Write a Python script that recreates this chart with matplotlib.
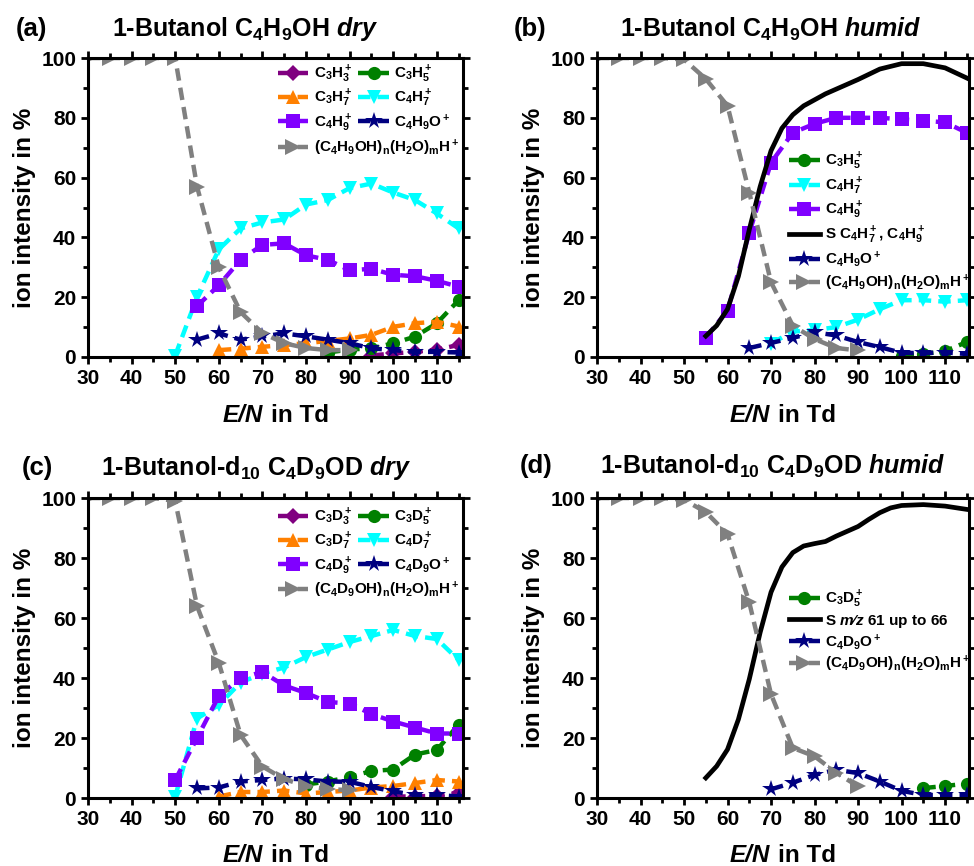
import matplotlib
matplotlib.use("Agg")
import matplotlib.pyplot as plt
from matplotlib.ticker import MultipleLocator
from matplotlib.offsetbox import TextArea, HPacker, AnchoredOffsetbox

plt.rcParams['font.family'] = ['Liberation Sans', 'DejaVu Sans']
plt.rcParams['font.weight'] = 'bold'
plt.rcParams['mathtext.fontset'] = 'custom'
plt.rcParams['mathtext.rm'] = 'Liberation Sans:bold'
plt.rcParams['mathtext.bf'] = 'Liberation Sans:bold'
plt.rcParams['mathtext.sf'] = 'Liberation Sans:bold'
plt.rcParams['mathtext.it'] = 'Liberation Sans:italic:bold'

# ---------------- data: panel (a) 1-Butanol dry ----------------
a_c3h3_x = [95, 100, 105, 110, 115]
a_c3h3_y = [0.5, 1.2, 1.7, 2.5, 4.0]
a_c3h5_x = [85, 90, 95, 100, 105, 110, 115]
a_c3h5_y = [1.5, 2.5, 2.9, 4.6, 6.8, 11.3, 19.0]
a_c3h7_x = [60, 65, 70, 75, 80, 85, 90, 95, 100, 105, 110, 115]
a_c3h7_y = [2.3, 2.8, 3.4, 4.0, 4.6, 5.4, 6.2, 7.4, 10.1, 11.3, 11.8, 10.2]
a_c4h7_x = [50, 55, 60, 65, 70, 75, 80, 85, 90, 95, 100, 105, 110, 115]
a_c4h7_y = [0.5, 20, 36, 43, 45, 46, 51, 52.5, 56.5, 58, 55, 52.5, 48, 43]
a_c4h9_x = [55, 60, 65, 70, 75, 80, 85, 90, 95, 100, 105, 110, 115]
a_c4h9_y = [17, 24, 32.5, 37.5, 38, 34, 32.5, 29, 29.5, 27.5, 27, 25.5, 23.5]
a_c4h9o_x = [55, 60, 65, 70, 75, 80, 85, 90, 95, 100, 105, 110, 115]
a_c4h9o_y = [5.8, 7.9, 5.8, 6.9, 7.9, 6.9, 5.8, 4.6, 2.9, 2.3, 1.7, 1.7, 1.5]
a_clus_x = [30, 35, 40, 45, 50, 55, 60, 65, 70, 75, 80, 85, 90]
a_clus_y = [100, 100, 100, 100, 100, 57, 30, 15, 8, 4.6, 3, 2.3, 2.3]

# ---------------- data: panel (b) 1-Butanol humid ----------------
b_c3h5_x = [100, 105, 110, 115]
b_c3h5_y = [0.5, 1.0, 2.0, 5.0]
b_c4h7_x = [70, 75, 80, 85, 90, 95, 100, 105, 110, 115]
b_c4h7_y = [4.5, 8.5, 9, 10, 12.5, 16, 19, 19, 18.5, 19]
b_c4h9_x = [55, 60, 65, 70, 75, 80, 85, 90, 95, 100, 105, 110, 115]
b_c4h9_y = [6.5, 15.5, 41.5, 65, 75, 78, 80, 80, 80, 79.5, 79, 78.5, 75]
b_sum_x = [55, 57.5, 60, 62.5, 65, 67.5, 70, 72.5, 75, 77.5, 80, 82.5, 85, 90, 95, 100, 105, 110, 115]
b_sum_y = [7, 10.5, 16, 27, 42.6, 57, 69, 76.5, 81, 84, 86, 88, 89.6, 92.8, 96.3, 98.1, 98.1, 96.7, 93.3]
b_c4h9o_x = [65, 70, 75, 80, 85, 90, 95, 100, 105, 110, 115]
b_c4h9o_y = [3, 4.7, 6.4, 8.3, 7.2, 5, 3.3, 1.4, 1.3, 1.5, 1]
b_clus_x = [30, 35, 40, 45, 50, 55, 60, 65, 70, 75, 80, 85, 90]
b_clus_y = [100, 100, 100, 100, 99.5, 93, 84, 55, 25, 10.5, 6, 3, 2.2]

# ---------------- data: panel (c) 1-Butanol-d10 dry ----------------
c_c3d3_x = [100, 105, 110, 115]
c_c3d3_y = [0.5, 0.5, 0.8, 1.8]
c_c3d5_x = [80, 85, 90, 95, 100, 105, 110, 115]
c_c3d5_y = [4.5, 5.5, 7, 9, 9.5, 14.5, 16, 24.5]
c_c3d7_x = [60, 65, 70, 75, 80, 85, 90, 95, 100, 105, 110, 115]
c_c3d7_y = [0.5, 2, 2, 2.5, 1.5, 2, 2.5, 3.5, 4, 5, 6, 5.5]
c_c4d7_x = [50, 55, 60, 65, 70, 75, 80, 85, 90, 95, 100, 105, 110, 115]
c_c4d7_y = [0.5, 26.5, 31, 38.5, 41.5, 43.5, 47, 49.5, 52, 54, 56, 54, 53, 46]
c_c4d9_x = [50, 55, 60, 65, 70, 75, 80, 85, 90, 95, 100, 105, 110, 115]
c_c4d9_y = [6, 20, 34, 40, 42, 37.5, 35, 32, 31.5, 28, 25.5, 23.5, 21.5, 21.5]
c_c4d9o_x = [55, 60, 65, 70, 75, 80, 85, 90, 95, 100, 105, 110, 115]
c_c4d9o_y = [3.2, 3.5, 5.5, 6, 6.5, 6.2, 5.5, 5.4, 3.7, 2.2, 1, 1, 0.5]
c_clus_x = [30, 35, 40, 45, 50, 55, 60, 65, 70, 75, 80, 85, 90]
c_clus_y = [100, 100, 100, 100, 99, 64, 45, 21, 10.5, 6.3, 4, 3, 2.6]

# ---------------- data: panel (d) 1-Butanol-d10 humid ----------------
d_c3d5_x = [105, 110, 115]
d_c3d5_y = [3.3, 4.0, 4.8]
d_sum_x = [55, 57.5, 60, 62.5, 65, 67.5, 70, 72.5, 75, 77.5, 80, 82.5, 85, 87.5, 90, 92.5, 95, 97.5, 100, 105, 110, 115]
d_sum_y = [6.7, 10.6, 16.2, 26.2, 39.6, 55.2, 68.6, 77.0, 81.8, 84, 84.8, 85.5, 87.3, 88.9, 90.5, 92.9, 95.1, 96.7, 97.5, 97.8, 97.3, 96.2]
d_c4d9o_x = [70, 75, 80, 85, 90, 95, 100, 105, 110, 115]
d_c4d9o_y = [2.9, 5.1, 7.7, 9.4, 8.3, 5.5, 2.4, 1, 1, 1]
d_clus_x = [30, 35, 40, 45, 50, 55, 60, 65, 70, 75, 80, 85, 90]
d_clus_y = [100, 100, 100, 100, 99.4, 95.3, 88, 65.2, 34.6, 16.7, 13.9, 8.4, 3.9]

xticks = [30, 40, 50, 60, 70, 80, 90, 100, 110]
yticks = [0, 20, 40, 60, 80, 100]

COL = {'dia': '#800080', 'circ': '#008000', 'tri': '#FF8000', 'tdn': '#00FFFF',
       'sq': '#8000FF', 'star': '#000080', 'clus': '#808080'}
MK = {'dia': 'D', 'circ': 'o', 'tri': '^', 'tdn': 'v', 'sq': 's', 'star': '*', 'clus': '>'}
MS = {'dia': 8, 'circ': 9.5, 'tri': 10.5, 'tdn': 10.5, 'sq': 9.5, 'star': 13, 'clus': 11.5}

fig = plt.figure(figsize=(9.74, 8.66), dpi=100)
W, H = 974, 866
LABFS = 17.5


def make_ax(l, r, t, b, xmax):
    ax = fig.add_axes([l / W, 1 - b / H, (r - l) / W, (b - t) / H])
    ax.set_xlim(30, xmax)
    ax.set_ylim(0, 100)
    ax.set_xticks(xticks)
    ax.set_yticks(yticks)
    ax.xaxis.set_minor_locator(MultipleLocator(5))
    ax.yaxis.set_minor_locator(MultipleLocator(10))
    ax.tick_params(which='both', direction='out', top=True, right=True, width=2.0,
                   labelsize=15)
    ax.tick_params(which='major', length=5)
    ax.tick_params(which='minor', length=3.5)
    for s in ax.spines.values():
        s.set_linewidth(2.2)
    for lab in ax.get_xticklabels() + ax.get_yticklabels():
        lab.set_fontweight('bold')
    ax.set_ylabel('ion intensity in %', fontsize=LABFS, fontweight='bold', labelpad=4)
    # x label: italic "E/N" followed by upright "in Td"
    t1 = TextArea('E/N', textprops=dict(fontsize=LABFS, fontweight='bold', fontstyle='italic'))
    t2 = TextArea('in Td', textprops=dict(fontsize=LABFS, fontweight='bold'))
    box = HPacker(children=[t1, t2], align='baseline', pad=0, sep=6)
    yoff = -58.0 / (b - t)
    anch = AnchoredOffsetbox(loc='center', child=box, pad=0, borderpad=0, frameon=False,
                             bbox_to_anchor=(0.5, yoff), bbox_transform=ax.transAxes)
    ax.add_artist(anch)
    return ax


def series(ax, x, y, kind, label):
    ln, = ax.plot(x, y, color=COL[kind], marker=MK[kind], markersize=MS[kind],
                  linestyle=(0, (2.8, 1.6)), linewidth=3.2, label=label,
                  markeredgewidth=0, clip_on=True)
    return ln


def sumline(ax, x, y, label):
    ln, = ax.plot(x, y, color='black', linewidth=3.4, linestyle='-', label=label)
    return ln


LEGKW = dict(frameon=False, fontsize=11, handlelength=2.0, handletextpad=0.35,
             borderaxespad=0.2, borderpad=0.2)
TFS = 18
PFS = 18.5

# ---------------- (a) ----------------
ax = make_ax(88, 463, 58, 357, 116)
h1 = series(ax, a_c3h3_x, a_c3h3_y, 'dia', 'C$_3$H$_3^+$')
h2 = series(ax, a_c3h5_x, a_c3h5_y, 'circ', 'C$_3$H$_5^+$')
h3 = series(ax, a_c3h7_x, a_c3h7_y, 'tri', 'C$_3$H$_7^+$')
h4 = series(ax, a_c4h7_x, a_c4h7_y, 'tdn', 'C$_4$H$_7^+$')
h5 = series(ax, a_c4h9_x, a_c4h9_y, 'sq', 'C$_4$H$_9^+$')
h6 = series(ax, a_c4h9o_x, a_c4h9o_y, 'star', 'C$_4$H$_9$O$^+$')
h7 = series(ax, a_clus_x, a_clus_y, 'clus', '(C$_4$H$_9$OH)$_\\mathrm{n}$(H$_2$O)$_\\mathrm{m}$H$^+$')
lg = ax.legend([h1, h3, h5, h2, h4, h6], [h.get_label() for h in [h1, h3, h5, h2, h4, h6]],
               ncol=2, loc='upper left', bbox_to_anchor=(0.49, 1.0), columnspacing=0.4,
               labelspacing=0.18, **LEGKW)
ax.add_artist(lg)
ax.legend([h7], [h7.get_label()], loc='center left', bbox_to_anchor=(0.49, 0.70),
          **LEGKW)
fig.text(16 / W, 1 - 29 / H, '(a)', fontsize=PFS, fontweight='bold', va='center', ha='left')
fig.text(112 / W, 1 - 29 / H, '1-Butanol C$_4$H$_9$OH $\\mathit{dry}$', fontsize=TFS,
         fontweight='bold', va='center', ha='left')

# ---------------- (b) ----------------
ax = make_ax(597, 969, 58, 357, 115.5)
h2 = series(ax, b_c3h5_x, b_c3h5_y, 'circ', 'C$_3$H$_5^+$')
h4 = series(ax, b_c4h7_x, b_c4h7_y, 'tdn', 'C$_4$H$_7^+$')
h5 = series(ax, b_c4h9_x, b_c4h9_y, 'sq', 'C$_4$H$_9^+$')
hs = sumline(ax, b_sum_x, b_sum_y, 'S C$_4$H$_7^+$, C$_4$H$_9^+$')
h6 = series(ax, b_c4h9o_x, b_c4h9o_y, 'star', 'C$_4$H$_9$O$^+$')
h7 = series(ax, b_clus_x, b_clus_y, 'clus', '(C$_4$H$_9$OH)$_\\mathrm{n}$(H$_2$O)$_\\mathrm{m}$H$^+$')
ax.legend([h2, h4, h5, hs, h6, h7], [h.get_label() for h in [h2, h4, h5, hs, h6, h7]],
          loc='upper left', bbox_to_anchor=(0.50, 0.71), labelspacing=0.22, **LEGKW)
fig.text(514 / W, 1 - 29 / H, '(b)', fontsize=PFS, fontweight='bold', va='center', ha='left')
fig.text(620 / W, 1 - 29 / H, '1-Butanol C$_4$H$_9$OH $\\mathit{humid}$', fontsize=TFS,
         fontweight='bold', va='center', ha='left')

# ---------------- (c) ----------------
ax = make_ax(88, 463, 498, 798, 116)
h1 = series(ax, c_c3d3_x, c_c3d3_y, 'dia', 'C$_3$D$_3^+$')
h2 = series(ax, c_c3d5_x, c_c3d5_y, 'circ', 'C$_3$D$_5^+$')
h3 = series(ax, c_c3d7_x, c_c3d7_y, 'tri', 'C$_3$D$_7^+$')
h4 = series(ax, c_c4d7_x, c_c4d7_y, 'tdn', 'C$_4$D$_7^+$')
h5 = series(ax, c_c4d9_x, c_c4d9_y, 'sq', 'C$_4$D$_9^+$')
h6 = series(ax, c_c4d9o_x, c_c4d9o_y, 'star', 'C$_4$D$_9$O$^+$')
h7 = series(ax, c_clus_x, c_clus_y, 'clus', '(C$_4$D$_9$OH)$_\\mathrm{n}$(H$_2$O)$_\\mathrm{m}$H$^+$')
lg = ax.legend([h1, h3, h5, h2, h4, h6], [h.get_label() for h in [h1, h3, h5, h2, h4, h6]],
               ncol=2, loc='upper left', bbox_to_anchor=(0.49, 0.99), columnspacing=0.4,
               labelspacing=0.18, **LEGKW)
ax.add_artist(lg)
ax.legend([h7], [h7.get_label()], loc='center left', bbox_to_anchor=(0.49, 0.693),
          **LEGKW)
fig.text(22 / W, 1 - 468 / H, '(c)', fontsize=PFS, fontweight='bold', va='center', ha='left')
fig.text(101 / W, 1 - 468 / H, '1-Butanol-d$_{10}$ C$_4$D$_9$OD $\\mathit{dry}$', fontsize=TFS,
         fontweight='bold', va='center', ha='left')

# ---------------- (d) ----------------
ax = make_ax(597, 969, 498, 798, 115.5)
h2 = series(ax, d_c3d5_x, d_c3d5_y, 'circ', 'C$_3$D$_5^+$')
hs = sumline(ax, d_sum_x, d_sum_y, 'S $\\mathit{m}$\u2044$\\mathit{z}$ 61 up to 66')
h6 = series(ax, d_c4d9o_x, d_c4d9o_y, 'star', 'C$_4$D$_9$O$^+$')
h7 = series(ax, d_clus_x, d_clus_y, 'clus', '(C$_4$D$_9$OH)$_\\mathrm{n}$(H$_2$O)$_\\mathrm{m}$H$^+$')
ax.legend([h2, hs, h6, h7], [h.get_label() for h in [h2, hs, h6, h7]],
          loc='upper left', bbox_to_anchor=(0.50, 0.717), labelspacing=0.15, **LEGKW)
fig.text(520 / W, 1 - 466 / H, '(d)', fontsize=PFS, fontweight='bold', va='center', ha='left')
fig.text(600 / W, 1 - 466 / H, '1-Butanol-d$_{10}$ C$_4$D$_9$OD $\\mathit{humid}$', fontsize=TFS,
         fontweight='bold', va='center', ha='left')

fig.savefig('out.png', dpi=100)
